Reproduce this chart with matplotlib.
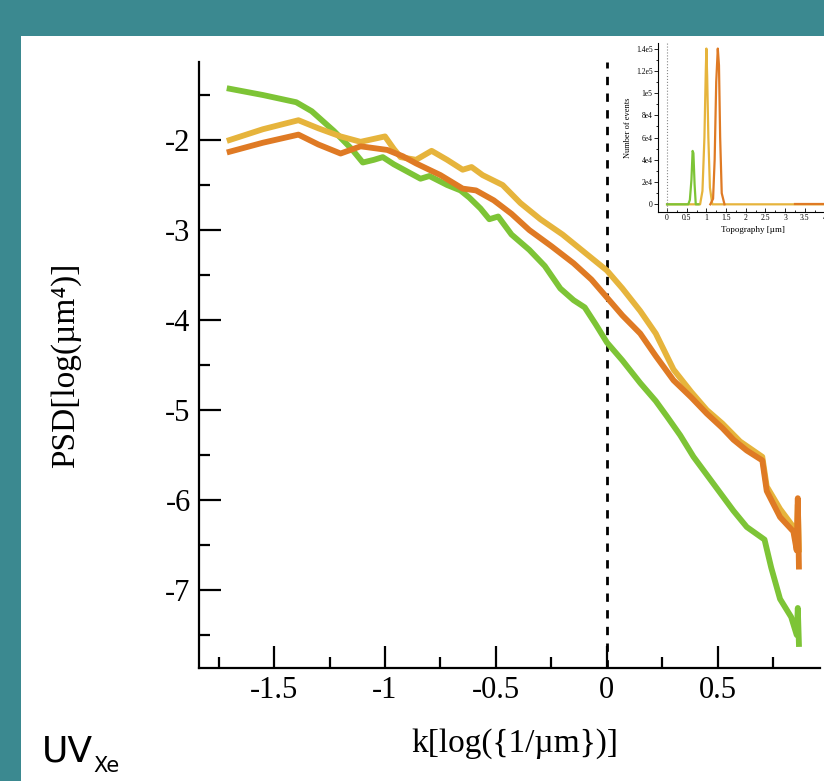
import matplotlib
matplotlib.use('Agg')
import matplotlib.pyplot as plt
from matplotlib.patches import Rectangle
from matplotlib.ticker import MultipleLocator, FixedLocator

# PSD curves: k = log(1/um), psd = log(um^4)
green_k = [-1.70, -1.55, -1.40, -1.33, -1.23, -1.15, -1.10, -1.05, -1.01, -0.96, -0.90, -0.84,
           -0.80, -0.72, -0.66, -0.62, -0.57, -0.53, -0.49, -0.43, -0.35, -0.28, -0.21, -0.15,
           -0.10, -0.05, 0.00, 0.07, 0.15, 0.22, 0.27, 0.33, 0.39, 0.45, 0.51, 0.57, 0.63,
           0.71, 0.74, 0.78, 0.83, 0.855, 0.86, 0.865]
green_psd = [-1.43, -1.50, -1.58, -1.68, -1.90, -2.10, -2.25, -2.22, -2.19, -2.27, -2.35, -2.43,
             -2.40, -2.50, -2.56, -2.64, -2.76, -2.88, -2.85, -3.05, -3.22, -3.40, -3.65, -3.78,
             -3.86, -4.05, -4.25, -4.45, -4.70, -4.90, -5.07, -5.28, -5.52, -5.72, -5.92, -6.12, -6.30,
             -6.44, -6.75, -7.10, -7.30, -7.50, -7.20, -7.60]

gold_k = [-1.70, -1.55, -1.39, -1.30, -1.20, -1.11, -1.00, -0.96, -0.93, -0.86, -0.79, -0.72,
          -0.65, -0.61, -0.56, -0.47, -0.39, -0.30, -0.20, -0.10, 0.00, 0.07, 0.15, 0.22,
          0.30, 0.38, 0.45, 0.52, 0.60, 0.70, 0.72, 0.78, 0.84, 0.855, 0.86, 0.865]
gold_psd = [-2.00, -1.88, -1.78, -1.87, -1.96, -2.02, -1.96, -2.10, -2.19, -2.22, -2.12, -2.22,
            -2.33, -2.30, -2.39, -2.50, -2.70, -2.88, -3.05, -3.25, -3.45, -3.65, -3.90, -4.15,
            -4.55, -4.80, -5.00, -5.15, -5.35, -5.52, -5.85, -6.10, -6.30, -6.50, -6.05, -6.55]

orange_k = [-1.70, -1.55, -1.39, -1.30, -1.20, -1.11, -0.99, -0.92, -0.86, -0.75, -0.65, -0.59,
            -0.51, -0.43, -0.35, -0.25, -0.15, -0.07, 0.00, 0.07, 0.15, 0.22, 0.30, 0.38,
            0.45, 0.52, 0.57, 0.63, 0.70, 0.72, 0.78, 0.84, 0.855, 0.86, 0.865]
orange_psd = [-2.13, -2.03, -1.94, -2.05, -2.15, -2.07, -2.11, -2.18, -2.26, -2.39, -2.54, -2.56,
              -2.67, -2.82, -3.00, -3.18, -3.37, -3.55, -3.75, -3.95, -4.15, -4.40, -4.67, -4.86,
              -5.04, -5.20, -5.33, -5.45, -5.56, -5.90, -6.19, -6.35, -6.56, -5.98, -6.74]

# inset histogram (topography in um, number of events)
hist_green_x = [0.0, 0.54, 0.58, 0.62, 0.65, 0.67, 0.70, 0.73, 0.80]
hist_green_y = [0, 0, 4000, 22000, 48000, 46000, 18000, 0, 0]
hist_gold_x = [0.0, 0.84, 0.90, 0.95, 0.985, 1.0, 1.02, 1.05, 1.09, 1.15, 4.6]
hist_gold_y = [0, 0, 12000, 60000, 120000, 140000, 115000, 60000, 15000, 0, 0]
hist_orange_x = [1.10, 1.17, 1.21, 1.25, 1.29, 1.32, 1.35, 1.39, 1.46]
hist_orange_y = [0, 5000, 40000, 110000, 140000, 125000, 60000, 10000, 0]
hist_orange_tail_x = [3.25, 4.6]
hist_orange_tail_y = [0, 0]
inset_yticks = [0, 20000, 40000, 60000, 80000, 100000, 120000, 140000]
inset_ylabels = ['0', '2e4', '4e4', '6e4', '8e4', '1e5', '1.2e5', '1.4e5']

GREEN = '#7dc436'
GOLD = '#e6b43c'
ORANGE = '#df7a24'
TEAL = '#3b8990'
SERIF = ['Liberation Serif', 'DejaVu Serif']

fig = plt.figure(figsize=(8.24, 7.81), dpi=100, facecolor=TEAL)
fig.add_artist(Rectangle((21 / 824, 0), 1, (781 - 36) / 781, transform=fig.transFigure,
                         facecolor='white', edgecolor='none', zorder=-1))

ax = fig.add_axes([199 / 824, 113 / 781, 621 / 824, 606 / 781])
ax.set_facecolor('white')
ax.plot(green_k, green_psd, color=GREEN, lw=4.2, solid_joinstyle='round')
ax.plot(gold_k, gold_psd, color=GOLD, lw=4.2, solid_joinstyle='round')
ax.plot(orange_k, orange_psd, color=ORANGE, lw=4.2, solid_joinstyle='round')
ax.axvline(0, color='black', lw=2, ls=(0, (3, 3)), zorder=0.5)

ax.set_xlim(-1.838, 0.96)
ax.set_ylim(-7.867, -1.133)
ax.xaxis.set_minor_locator(MultipleLocator(0.25))
ax.yaxis.set_minor_locator(MultipleLocator(0.5))
ax.set_xticks([-1.5, -1, -0.5, 0, 0.5])
ax.set_xticklabels(['-1.5', '-1', '-0.5', '0', '0.5'])
ax.set_yticks([-7, -6, -5, -4, -3, -2])
ax.set_yticklabels(['-7', '-6', '-5', '-4', '-3', '-2'])
for s in ['top', 'right']:
    ax.spines[s].set_visible(False)
for s in ['left', 'bottom']:
    ax.spines[s].set_linewidth(1.6)
ax.tick_params(which='major', direction='in', length=16, width=1.6, pad=6)
ax.tick_params(which='minor', direction='in', length=8, width=1.6)
for lab in ax.get_xticklabels() + ax.get_yticklabels():
    lab.set_family(SERIF)
    lab.set_fontsize(22)

ax.set_ylabel('PSD[log(µm⁴)]', family=SERIF, fontsize=24)
ax.yaxis.set_label_coords(-0.19, 0.5)
ax.set_xlabel('k[log({1/µm})]', family=SERIF, fontsize=24)
ax.xaxis.set_label_coords(0.509, -0.10)

fig.text(42 / 824, 19 / 781, 'UV', family='DejaVu Sans', fontsize=26, va='baseline')
fig.text(93 / 824, 9 / 781, 'Xe', family='DejaVu Sans', fontsize=15, va='baseline')

# inset histogram
axi = fig.add_axes([658 / 824, (781 - 212) / 781, 190 / 824, 169 / 781])
axi.set_facecolor('white')
axi.plot(hist_gold_x, hist_gold_y, color=GOLD, lw=1.6)
axi.plot(hist_green_x, hist_green_y, color=GREEN, lw=1.6)
axi.plot(hist_orange_x, hist_orange_y, color=ORANGE, lw=1.6)
axi.plot(hist_orange_tail_x, hist_orange_tail_y, color=ORANGE, lw=1.6)
axi.axvline(0, color='#888888', lw=0.8, ls=':')
axi.set_xlim(-0.23, 4.6)
axi.set_ylim(-6900, 145000)
axi.xaxis.set_minor_locator(MultipleLocator(0.25))
axi.yaxis.set_major_locator(FixedLocator(inset_yticks))
axi.yaxis.set_minor_locator(MultipleLocator(10000))
axi.set_yticklabels(inset_ylabels)
axi.set_xticks([0, 0.5, 1, 1.5, 2, 2.5, 3, 3.5, 4])
axi.set_xticklabels(['0', '0.5', '1', '1.5', '2', '2.5', '3', '3.5', '4'])
for s in ['top', 'right']:
    axi.spines[s].set_visible(False)
for s in ['left', 'bottom']:
    axi.spines[s].set_linewidth(0.8)
axi.tick_params(axis='x', which='major', direction='in', length=3, width=0.6, pad=1.5)
axi.tick_params(axis='x', which='minor', direction='in', length=1.5, width=0.6)
axi.tick_params(axis='y', which='major', direction='out', length=3, width=0.6, pad=1)
axi.tick_params(axis='y', which='minor', direction='out', length=1.5, width=0.6)
for lab in axi.get_xticklabels() + axi.get_yticklabels():
    lab.set_family(SERIF)
    lab.set_fontsize(5.5)
axi.set_ylabel('Number of events', family=SERIF, fontsize=6, labelpad=3)
axi.set_xlabel('Topography [µm]', family=SERIF, fontsize=6.5, labelpad=3)

plt.savefig('out.png', dpi=100, facecolor=TEAL)
